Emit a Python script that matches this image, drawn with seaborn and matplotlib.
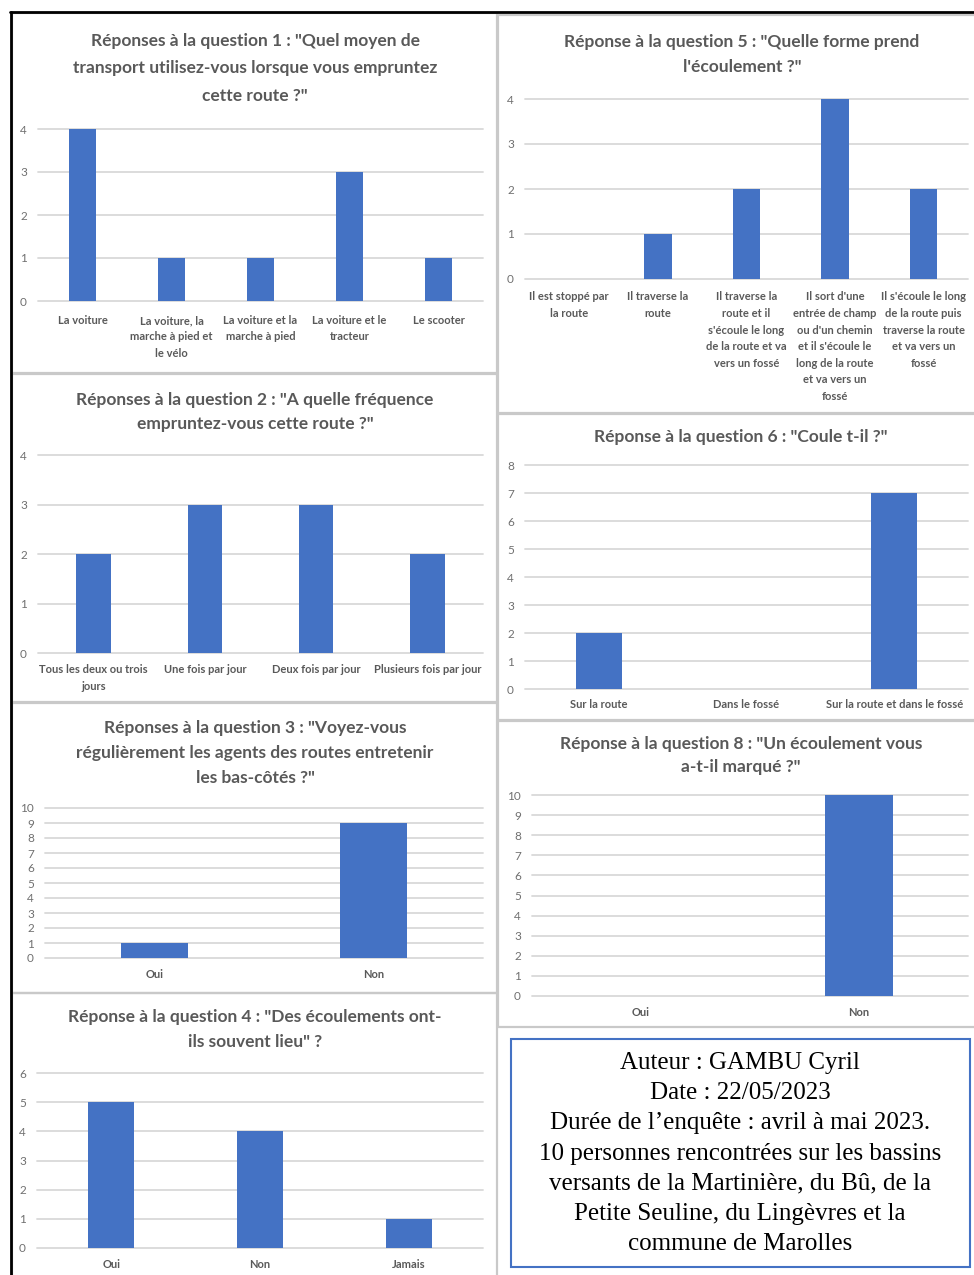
#!/usr/bin/env python3
import matplotlib
matplotlib.use("Agg")
import matplotlib.pyplot as plt
from matplotlib.patches import Rectangle
from matplotlib.lines import Line2D
import seaborn as sns

W, H = 974, 1275
BAR = "#4472C4"
GRID = "#D9D9D9"
TXT = "#595959"

q1_labels = ["La voiture", "La voiture, la\nmarche à pied et\nle vélo", "La voiture et la\nmarche à pied",
             "La voiture et le\ntracteur", "Le scooter"]
q1_values = [4, 1, 1, 3, 1]

q2_labels = ["Tous les deux ou trois\njours", "Une fois par jour", "Deux fois par jour", "Plusieurs fois par jour"]
q2_values = [2, 3, 3, 2]

q3_labels = ["Oui", "Non"]
q3_values = [1, 9]

q4_labels = ["Oui", "Non", "Jamais"]
q4_values = [5, 4, 1]

q5_labels = ["Il est stoppé par\nla route", "Il traverse la\nroute",
             "Il traverse la\nroute et il\ns'écoule le long\nde la route et va\nvers un fossé",
             "Il sort d'une\nentrée de champ\nou d'un chemin\net il s'écoule le\nlong de la route\net va vers un\nfossé",
             "Il s'écoule le long\nde la route puis\ntraverse la route\net va vers un\nfossé"]
q5_values = [0, 1, 2, 4, 2]

q6_labels = ["Sur la route", "Dans le fossé", "Sur la route et dans le fossé"]
q6_values = [2, 0, 7]

q8_labels = ["Oui", "Non"]
q8_values = [0, 10]

titles = {
    "q1": 'Réponses à la question 1 : "Quel moyen de\ntransport utilisez-vous lorsque vous empruntez\ncette route ?"',
    "q2": 'Réponses à la question 2 : "A quelle fréquence\nempruntez-vous cette route ?"',
    "q3": 'Réponses à la question 3 : "Voyez-vous\nrégulièrement les agents des routes entretenir\nles bas-côtés ?"',
    "q4": 'Réponse à la question 4 : "Des écoulements ont-\nils souvent lieu" ?',
    "q5": 'Réponse à la question 5 : "Quelle forme prend\nl\'écoulement ?"',
    "q6": 'Réponse à la question 6 : "Coule t-il ?"',
    "q8": 'Réponse à la question 8 : "Un écoulement vous\na-t-il marqué ?"',
}

info_lines = [
    "Auteur : GAMBU Cyril",
    "Date : 22/05/2023",
    "Durée de l’enquête : avril à mai 2023.",
    "10 personnes rencontrées sur les bassins",
    "versants de la Martinière, du Bû, de la",
    "Petite Seuline, du Lingèvres et la",
    "commune de Marolles",
]

sns.set_theme(style="white")
plt.rcParams["font.family"] = ["Lato", "DejaVu Sans"]

fig = plt.figure(figsize=(W / 100, H / 100), dpi=100)


def fx(px):
    return px / W


def fy(py):
    return 1 - py / H


def panel_box(x0, y0, x1, y1):
    fig.patches.append(Rectangle((fx(x0), fy(y1)), fx(x1 - x0), (y1 - y0) / H, transform=fig.transFigure,
                                 fill=False, edgecolor="#C9C9C9", linewidth=1.6))


def draw_chart(key, labels, values, ymax, ax_px, title_xy, title_step, xpad=8):
    x0, y0, x1, y1 = ax_px
    ax = fig.add_axes([fx(x0), fy(y1), (x1 - x0) / W, (y1 - y0) / H])
    sns.barplot(x=labels, y=values, color=BAR, saturation=1, width=0.31, linewidth=0, ax=ax)
    ax.set_ylim(0, ymax)
    ax.set_yticks(range(0, ymax + 1))
    ax.set_xlim(-0.5, len(labels) - 0.5)
    for s in ax.spines.values():
        s.set_visible(False)
    ax.yaxis.grid(True, color=GRID, linewidth=1.3)
    ax.set_axisbelow(True)
    for ln in ax.get_ygridlines():
        ln.set_clip_on(False)
    ax.tick_params(axis="y", length=0, pad=8, labelsize=8.5, labelcolor="#707070")
    ax.tick_params(axis="x", length=0, pad=xpad, labelsize=8, labelcolor=TXT)
    for t in ax.get_xticklabels():
        t.set_fontweight("bold")
        t.set_linespacing(1.62)
    ax.set_xlabel("")
    ax.set_ylabel("")
    cx, ty = title_xy
    for i, line in enumerate(titles[key].split("\n")):
        fig.text(fx(cx), fy(ty + i * title_step), line, ha="center", va="center",
                 fontsize=12.5, fontweight="bold", color=TXT)


# panel frames
panel_box(12, 13, 497, 373)
panel_box(12, 374, 497, 702)
panel_box(12, 703, 497, 993)
panel_box(12, 993, 497, 1280)
panel_box(498, 15, 980, 413)
panel_box(498, 414, 980, 720)
panel_box(498, 721, 980, 1027)

draw_chart("q1", q1_labels, q1_values, 4, (38, 129, 483, 301), (255, 41), 27.5, xpad=10)
draw_chart("q2", q2_labels, q2_values, 4, (38, 455, 483, 653), (255, 400), 24)
draw_chart("q3", q3_labels, q3_values, 10, (45, 808, 483, 958), (255, 728), 25)
draw_chart("q4", q4_labels, q4_values, 6, (37, 1073, 483, 1248), (255, 1017), 25)
draw_chart("q5", q5_labels, q5_values, 4, (525, 99, 968, 279), (742, 42), 25, xpad=9)
draw_chart("q6", q6_labels, q6_values, 8, (525, 465, 968, 689), (741, 437), 25, xpad=7)
draw_chart("q8", q8_labels, q8_values, 10, (532, 795, 968, 996), (741, 744), 23)

# outer black frame (top and left)
fig.lines.append(Line2D([fx(10), fx(974)], [fy(12), fy(12)], transform=fig.transFigure, color="black", lw=2))
fig.lines.append(Line2D([fx(11), fx(11)], [fy(12), fy(1275)], transform=fig.transFigure, color="black", lw=2))

# info box
fig.patches.append(Rectangle((fx(511), fy(1267)), fx(970 - 511), (1267 - 1039) / H, transform=fig.transFigure,
                             fill=False, edgecolor=BAR, linewidth=1.5))
for i, line in enumerate(info_lines):
    fig.text(fx(740), fy(1063 + i * 30.2), line, ha="center", va="center", fontsize=18,
             family=["Liberation Serif", "DejaVu Serif"], color="black")

fig.savefig("out.png", dpi=100)
